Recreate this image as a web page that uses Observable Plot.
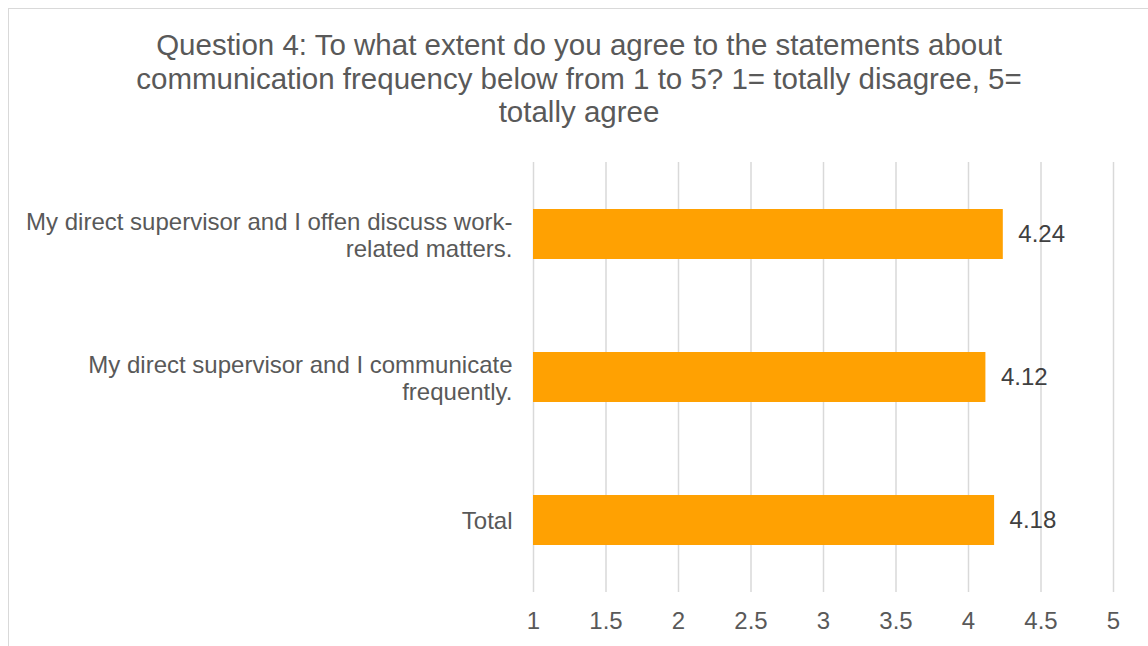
<!DOCTYPE html>
<html>
<head>
<meta charset="utf-8">
<script src="https://cdn.jsdelivr.net/npm/d3@7"></script>
<script src="https://cdn.jsdelivr.net/npm/@observablehq/plot@0.6"></script>
<style>
  html, body { margin: 0; padding: 0; background: #fff; overflow: hidden; }
  #wrap { position: relative; width: 1148px; height: 646px; overflow: hidden; font-family: "Liberation Sans", Arial, sans-serif; }
  #frame { position: absolute; left: 8px; top: 8px; width: 1200px; height: 700px; border: 1.5px solid #d9d9d9; box-sizing: border-box; }
  #title { position: relative; height: 145px; box-sizing: border-box; padding-top: 28px; text-align: center; color: #595959; font-size: 29.5px; line-height: 33.5px; padding-left: 10px; white-space: nowrap; }
  #chart { position: relative; }
  svg { display: block; }
</style>
</head>
<body>
<div id="wrap">
  <div id="frame"></div>
  <div id="title">Question 4: To what extent do you agree to the statements about<br>communication frequency below from 1 to 5? 1= totally disagree, 5=<br>totally agree</div>
  <div id="chart"></div>
</div>
<script>
const categories = [
  "My direct supervisor and I offen discuss work-\nrelated matters.",
  "My direct supervisor and I communicate\nfrequently.",
  "Total"
];
const values = [4.24, 4.12, 4.18];
const xTicks = [1, 1.5, 2, 2.5, 3, 3.5, 4, 4.5, 5];

const data = categories.map((c, i) => ({category: c, value: values[i]}));

const chart = Plot.plot({
  width: 1148,
  height: 501,
  marginLeft: 533,
  marginRight: 35,
  marginTop: 17,
  marginBottom: 54,
  style: {fontFamily: "'Liberation Sans', Arial, sans-serif", fontSize: "24px", background: "transparent"},
  x: {domain: [1, 5], ticks: xTicks},
  y: {domain: categories, paddingInner: 0.65, paddingOuter: 0.325},
  marks: [
    Plot.gridX(xTicks, {stroke: "#d9d9d9", strokeOpacity: 1, strokeWidth: 1.5}),
    Plot.barX(data, {x1: 1, x2: "value", y: "category", fill: "#ffa102"}),
    Plot.text(data, {x: "value", y: "category", text: d => d.value.toFixed(2), textAnchor: "start", dx: 15, fill: "#404040", fontSize: 24}),
    Plot.axisX({ticks: xTicks, tickSize: 0, tickPadding: 19, fill: "#595959", fontSize: 24, label: null, tickFormat: d => String(d)}),
    Plot.axisY({tickSize: 0, tickPadding: 21, fill: "#595959", fontSize: 24, lineHeight: 1.13, label: null, textAnchor: "end"})
  ]
});
document.getElementById("chart").appendChild(chart);
</script>
</body>
</html>
